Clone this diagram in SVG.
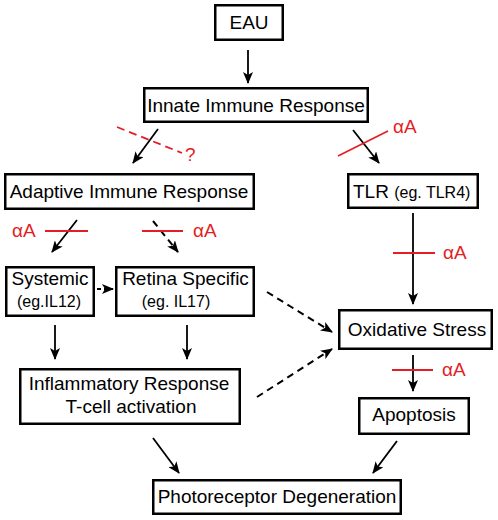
<svg xmlns="http://www.w3.org/2000/svg" width="498" height="520" viewBox="0 0 498 520">
<defs>
<marker id="ah" viewBox="0 0 12 10" refX="11" refY="5" markerWidth="12" markerHeight="10" markerUnits="userSpaceOnUse" orient="auto">
<path d="M0,0 L12,5 L0,10 L3,5 z" fill="#000"/>
</marker>
<style>
.box{fill:#fff;stroke:#000;stroke-width:2.5}
.t{font-family:"Liberation Sans",Arial,sans-serif;font-size:19px;fill:#000;text-anchor:middle}
.s{font-size:16px}
.c{stroke:#000;stroke-width:1.8;fill:none;marker-end:url(#ah)}
.d{stroke-dasharray:7,5;stroke-width:2}
.r{stroke:#e31e24;stroke-width:1.8;fill:none}
.rt{font-family:"Liberation Sans",Arial,sans-serif;font-size:19px;fill:#e31e24}
</style>
</defs>
<rect width="498" height="520" fill="#fff"/>
<g id="connectors">
<line class="c" x1="248" y1="50" x2="248" y2="83"/>
<line class="c" x1="158" y1="129" x2="133" y2="163"/>
<line class="c" x1="353" y1="130" x2="379" y2="163"/>
<line class="c" x1="77" y1="220" x2="52" y2="252"/>
<line class="c d" x1="153" y1="221" x2="178" y2="252"/>
<line class="c" x1="413" y1="213" x2="413" y2="304"/>
<line class="c" x1="97" y1="289" x2="113" y2="289" stroke-dasharray="4,3"/>
<line class="c d" x1="267" y1="292" x2="332" y2="332"/>
<line class="c" x1="55" y1="325" x2="55" y2="359"/>
<line class="c" x1="187" y1="325" x2="187" y2="359"/>
<line class="c d" x1="257" y1="397" x2="332" y2="349"/>
<line class="c" x1="413" y1="355" x2="413" y2="391"/>
<line class="c" x1="153" y1="438" x2="179" y2="473"/>
<line class="c" x1="397" y1="441" x2="373" y2="473"/>
</g>
<g id="inhibitions">
<line class="r" x1="117" y1="127" x2="182" y2="153" stroke-dasharray="8,5"/>
<text class="rt" x="185" y="161" font-size="17">?</text>
<line class="r" x1="338" y1="156" x2="388" y2="131"/>
<text class="rt" x="393" y="133">αA</text>
<line class="r" x1="45" y1="231" x2="88" y2="231"/>
<text class="rt" x="12" y="237">αA</text>
<line class="r" x1="142" y1="231" x2="183" y2="231"/>
<text class="rt" x="193" y="237">αA</text>
<line class="r" x1="393" y1="253" x2="435" y2="253"/>
<text class="rt" x="443" y="259">αA</text>
<line class="r" x1="392" y1="370" x2="433" y2="370"/>
<text class="rt" x="442" y="376">αA</text>
</g>
<g id="eau"><rect class="box" x="215.25" y="5.25" width="67.5" height="34.5"/><text class="t" x="249" y="29">EAU</text></g>
<g id="innate"><rect class="box" x="144.25" y="88.25" width="223.5" height="33.5"/><text class="t" x="256" y="112">Innate Immune Response</text></g>
<g id="adaptive"><rect class="box" x="5.25" y="174.25" width="248.5" height="34.5"/><text class="t" x="129" y="198">Adaptive Immune Response</text></g>
<g id="tlr"><rect class="box" x="348.25" y="174.25" width="129.5" height="33.5"/><text class="t" x="353" y="198" style="text-anchor:start">TLR <tspan font-size="16">(eg. TLR4)</tspan></text></g>
<g id="systemic"><rect class="box" x="6.25" y="267.25" width="87.5" height="48.5"/><text class="t" x="50" y="285" font-size="17.5">Systemic</text><text class="t s" x="49" y="307">(eg.IL12)</text></g>
<g id="retina"><rect class="box" x="116.25" y="267.25" width="137.5" height="48.5"/><text class="t" x="185.5" y="285">Retina Specific</text><text class="t s" x="176" y="307">(eg. IL17)</text></g>
<g id="oxidative"><rect class="box" x="339.25" y="310.25" width="152.5" height="38.5"/><text class="t" x="417" y="336">Oxidative Stress</text></g>
<g id="inflammatory"><rect class="box" x="20.25" y="369.25" width="219.5" height="54.5"/><text class="t" x="129" y="390">Inflammatory Response</text><text class="t" x="131" y="413">T-cell activation</text></g>
<g id="apoptosis"><rect class="box" x="359.25" y="398.25" width="109.5" height="35.5"/><text class="t" x="414" y="421">Apoptosis</text></g>
<g id="photoreceptor"><rect class="box" x="153.25" y="480.25" width="247.5" height="33.5"/><text class="t" x="277" y="503">Photoreceptor Degeneration</text></g>
</svg>
